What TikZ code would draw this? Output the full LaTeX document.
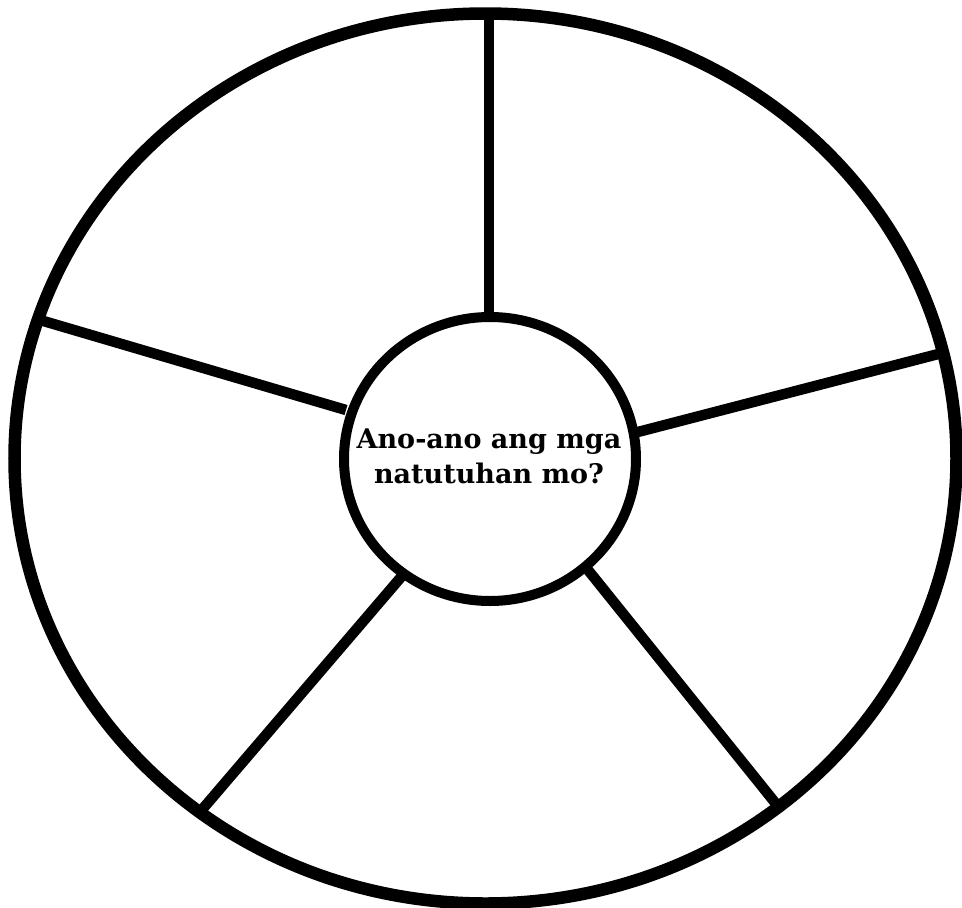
\documentclass[tikz,border=0pt]{standalone}
\usepackage{fontspec}
\setmainfont{DejaVu Serif}
\usetikzlibrary{shapes.geometric}
\tikzset{
  rim/.style={line width=12.5pt, draw=black},
  hub/.style={line width=10pt, draw=black, fill=white},
  spoke/.style={line width=10.5pt, draw=black},
  label/.style={font=\bfseries\fontsize{27}{35}\selectfont, align=center, text=black, inner sep=0pt}
}
\begin{document}
\begin{tikzpicture}[x=1pt,y=-1pt]
\useasboundingbox (0,0) rectangle (962,908);
\fill[white] (0,0) rectangle (962,908);
% endpoints
\coordinate (t1) at (489,14);   \coordinate (t2) at (489,320);
\coordinate (r1) at (946,352);  \coordinate (r2) at (634,433);
\coordinate (l1) at (40,320);   \coordinate (l2) at (346,410);
\coordinate (bl1) at (200,812); \coordinate (bl2) at (402,576);
\coordinate (br1) at (781,810); \coordinate (br2) at (588,570);
\draw[spoke] (t1) -- (t2);
\draw[spoke] (r1) -- (r2);
\draw[spoke] (l1) -- (l2);
\draw[spoke] (bl1) -- (bl2);
\draw[spoke] (br1) -- (br2);
\draw[rim] (485.5,458.5) ellipse [x radius=471, y radius=445];
\draw[hub] (490,459) ellipse [x radius=146, y radius=142];
\node[label] (q) at (489,456) {Ano-ano ang mga\\natutuhan mo?};
\end{tikzpicture}
\end{document}
